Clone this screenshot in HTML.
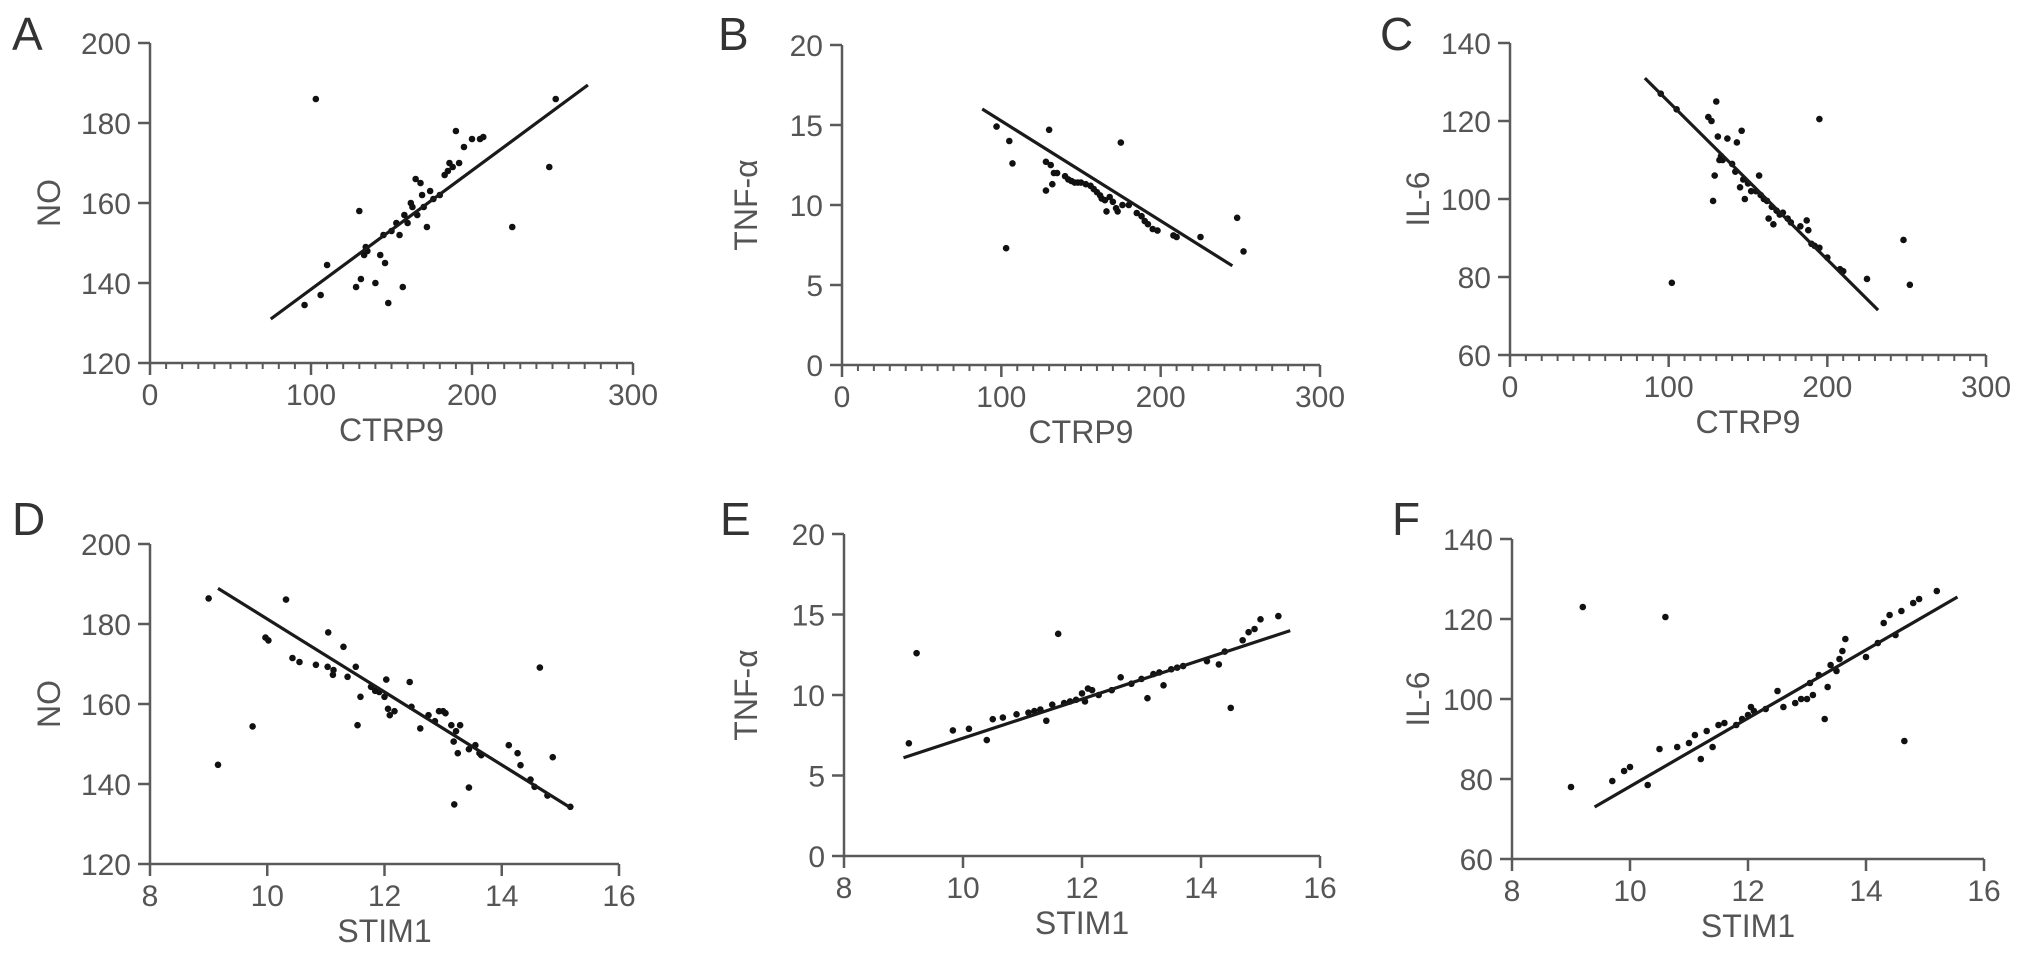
<!DOCTYPE html>
<html><head><meta charset="utf-8">
<style>
html,body{margin:0;padding:0;background:#fff;}
svg{display:block;font-family:"Liberation Sans",Arial,sans-serif;}
</style></head>
<body>
<svg id="fig" width="2032" height="961" viewBox="0 0 2032 961" xmlns="http://www.w3.org/2000/svg"></svg>
<script>
// ---- Panel A: CTRP9 vs NO ----
const aX=[103,96,106,110,128,130,131,133,134,135,140,143,145,146,148,150,153,155,157,158,160,162,163,165,166,168,169,170,172,174,176,180,183,185,186,188,190,192,195,200,205,207,225,248,252];
const aY=[186,134.5,137,144.5,139,158,141,147,149,148,140,147,152,145,135,153,155,152,139,157,155,160,159,166,157,165,162,159,154,163,161,162,167,168,170,169,178,170,174,176,176,176.5,154,169,186];
const aFit=[[75,131],[272,189.5]];
// ---- Panel B: CTRP9 vs TNF-a ----
const bX=[97,105,107,103,128,128,130,131,132,133,135,140,142,144,146,148,150,153,156,158,160,162,163,165,166,168,170,172,173,175,176,180,185,188,190,192,195,198,208,210,225,248,252];
const bY=[14.9,14,12.6,7.3,10.9,12.7,14.7,12.5,11.3,12,12,11.8,11.6,11.5,11.4,11.4,11.4,11.3,11.2,11.0,10.8,10.6,10.4,10.3,9.6,10.5,10.2,9.8,9.6,13.9,10.0,10.0,9.5,9.3,9.0,8.8,8.5,8.4,8.1,8.0,8.0,9.2,7.1];
const bFit=[[88,16],[245,6.2]];
// ---- Panel C: CTRP9 vs IL-6 ----
const cX=[95,105,102,125,127,128,129,130,131,132,133,134,137,140,142,143,145,146,147,148,150,152,155,157,158,160,162,163,165,166,168,170,172,175,177,183,187,188,190,192,195,195,200,208,210,225,248,252];
const cY=[127,123,78.5,121,120,99.5,106,125,116,110,111,110,115.5,109,107,114.5,103,117.5,105,100,104,102,102,106,101,100,99.5,95,98,93.5,97,96,96.5,95,94,93,94.5,92,88.5,88,120.5,87.5,85,82,81.5,79.5,89.5,78];
const cFit=[[85,131],[232,71.5]];
// ---- Panel D: STIM1 vs NO ----
const dX=[9.0,9.16,9.75,9.97,10.02,10.32,10.43,10.55,10.83,11.04,11.03,11.13,11.12,11.3,11.37,11.51,11.54,11.59,11.77,11.84,11.91,12.03,12.0,12.06,12.09,12.17,12.43,12.46,12.61,12.75,12.86,12.93,13.0,13.04,13.14,13.22,13.29,13.18,13.19,13.25,13.44,13.44,13.55,13.62,13.65,14.12,14.27,14.32,14.49,14.56,14.65,14.78,14.87,15.17];
const dY=[186.4,144.8,154.4,176.6,175.9,186.1,171.5,170.5,169.8,177.9,169.3,168.5,167.3,174.3,166.8,169.3,154.7,161.8,164.3,163.3,163.0,166.1,161.8,158.8,157.2,158.2,165.5,159.3,153.9,157.2,155.7,158.2,158.2,157.7,154.7,153.2,154.7,150.6,134.9,147.7,139.1,148.7,149.7,147.7,147.2,149.7,147.7,144.7,141.1,139.3,169.1,137.1,146.7,134.3];
const dFit=[[9.16,188.9],[15.17,134.1]];
// ---- Panel E: STIM1 vs TNF-a ----
const eX=[9.09,9.22,9.83,10.1,10.4,10.5,10.67,10.9,11.1,11.2,11.3,11.4,11.5,11.6,11.7,11.8,11.9,12.0,12.05,12.1,12.17,12.28,12.5,12.65,12.83,13.0,13.1,13.2,13.3,13.37,13.5,13.6,13.7,14.1,14.3,14.4,14.5,14.7,14.8,14.9,15.0,15.3];
const eY=[7.0,12.6,7.8,7.9,7.2,8.5,8.6,8.8,8.9,9.0,9.1,8.4,9.4,13.8,9.5,9.6,9.7,10.1,9.6,10.4,10.3,10.0,10.3,11.1,10.7,11.0,9.8,11.3,11.4,10.6,11.6,11.7,11.8,12.1,11.9,12.7,9.2,13.4,13.9,14.1,14.7,14.9];
const eFit=[[9.0,6.1],[15.5,14.0]];
// ---- Panel F: STIM1 vs IL-6 ----
const fX=[9.0,9.2,9.7,9.9,10.0,10.3,10.5,10.6,10.8,11.0,11.1,11.2,11.3,11.4,11.5,11.6,11.8,11.9,12.0,12.05,12.1,12.3,12.5,12.6,12.8,12.9,13.0,13.05,13.1,13.2,13.3,13.35,13.4,13.5,13.55,13.6,13.65,14.0,14.2,14.3,14.4,14.5,14.6,14.65,14.8,14.9,15.2];
const fY=[78,123,79.5,82,83,78.5,87.5,120.5,88,89,91,85,92,88,93.5,94,93.5,95,96,98,97,97.5,102,98,99,100,100,104,101,106,95,103,108.5,107,110,112,115,110.5,114,119,121,116,122,89.5,124,125,127];
const fFit=[[9.4,73],[15.55,125.5]];

const xTicksTop=[0,100,200,300];
const xTicksBot=[8,10,12,14,16];
const yTicksNO=[120,140,160,180,200];
const yTicksTNF=[0,5,10,15,20];
const yTicksIL=[60,80,100,120,140];

const NS='http://www.w3.org/2000/svg';
const svg=document.getElementById('fig');
function mk(tag,attrs,parent){const e=document.createElementNS(NS,tag);for(const k in attrs)e.setAttribute(k,attrs[k]);(parent||svg).appendChild(e);return e;}

const panels=[
 {id:'a',letter:'A',L:150,R:633,T:43,B:363,xt:xTicksTop,yt:yTicksNO,minor:10,xs:aX,ys:aY,fit:aFit,xl:'CTRP9',yl:'NO',lx:12,ly:50,yx:49},
 {id:'b',letter:'B',L:842,R:1320,T:45,B:365,xt:xTicksTop,yt:yTicksTNF,minor:10,xs:bX,ys:bY,fit:bFit,xl:'CTRP9',yl:'TNF-α',lx:718,ly:50,yx:746},
 {id:'c',letter:'C',L:1510,R:1986,T:43,B:355,xt:xTicksTop,yt:yTicksIL,minor:10,xs:cX,ys:cY,fit:cFit,xl:'CTRP9',yl:'IL-6',lx:1380,ly:50,yx:1418},
 {id:'d',letter:'D',L:150,R:619,T:544,B:864,xt:xTicksBot,yt:yTicksNO,minor:0,xs:dX,ys:dY,fit:dFit,xl:'STIM1',yl:'NO',lx:12,ly:535,yx:49},
 {id:'e',letter:'E',L:844,R:1320,T:534,B:856,xt:xTicksBot,yt:yTicksTNF,minor:0,xs:eX,ys:eY,fit:eFit,xl:'STIM1',yl:'TNF-α',lx:720,ly:535,yx:746},
 {id:'f',letter:'F',L:1512,R:1984,T:539,B:859,xt:xTicksBot,yt:yTicksIL,minor:0,xs:fX,ys:fY,fit:fFit,xl:'STIM1',yl:'IL-6',lx:1392,ly:535,yx:1418}
];
const AX='#5a5a5a';
panels.forEach(p=>{
  const g=mk('g',{});
  
  
  const x0=p.xt[0],x1=p.xt[p.xt.length-1],y0=p.yt[0],y1=p.yt[p.yt.length-1];
  const sx=v=>p.L+(v-x0)/(x1-x0)*(p.R-p.L);
  const sy=v=>p.B-(v-y0)/(y1-y0)*(p.B-p.T);
  const lt=mk('text',{x:p.lx,y:p.ly,'font-size':46,fill:'#333'},g);lt.textContent=p.letter;
  
  
  const ya=mk('line',{x1:p.L,y1:p.T,x2:p.L,y2:p.B,stroke:AX,'stroke-width':2.5},g);
  
  
  const xa=mk('line',{x1:p.L,y1:p.B,x2:p.R,y2:p.B,stroke:AX,'stroke-width':2.5},g);
  
  
  p.yt.forEach(v=>{
    mk('line',{x1:p.L-12,y1:sy(v),x2:p.L,y2:sy(v),stroke:AX,'stroke-width':2.5},g);
    const t=mk('text',{x:p.L-19,y:sy(v)+11,'font-size':30,fill:'#555','text-anchor':'end'},g);t.textContent=v;
    
    
  });
  p.xt.forEach(v=>{
    mk('line',{x1:sx(v),y1:p.B,x2:sx(v),y2:p.B+12,stroke:AX,'stroke-width':2.5},g);
    const t=mk('text',{x:sx(v),y:p.B+42,'font-size':30,fill:'#555','text-anchor':'middle'},g);t.textContent=v;
    
    
  });
  if(p.minor){for(let v=x0+p.minor;v<x1;v+=p.minor){if(v%100===0)continue;mk('line',{x1:sx(v),y1:p.B,x2:sx(v),y2:p.B+6,stroke:AX,'stroke-width':2},g);}}
  const xt=mk('text',{x:(p.L+p.R)/2,y:p.B+78,'font-size':32,fill:'#555','text-anchor':'middle'},g);xt.textContent=p.xl;
  
  
  const yx=p.yx+11, yy=(p.T+p.B)/2;
  const yt=mk('text',{x:yx,y:yy,'font-size':32,fill:'#555','text-anchor':'middle',transform:`rotate(-90 ${yx} ${yy})`},g);yt.textContent=p.yl;
  
  
  p.xs.forEach((v,i)=>{
    const c=mk('circle',{cx:sx(v),cy:sy(p.ys[i]),r:3.3,fill:'#111'},g);
    
    
  });
  const fl=mk('line',{x1:sx(p.fit[0][0]),y1:sy(p.fit[0][1]),x2:sx(p.fit[1][0]),y2:sy(p.fit[1][1]),stroke:'#1a1a1a','stroke-width':3.2},g);
  
  
});
</script>
</body></html>
